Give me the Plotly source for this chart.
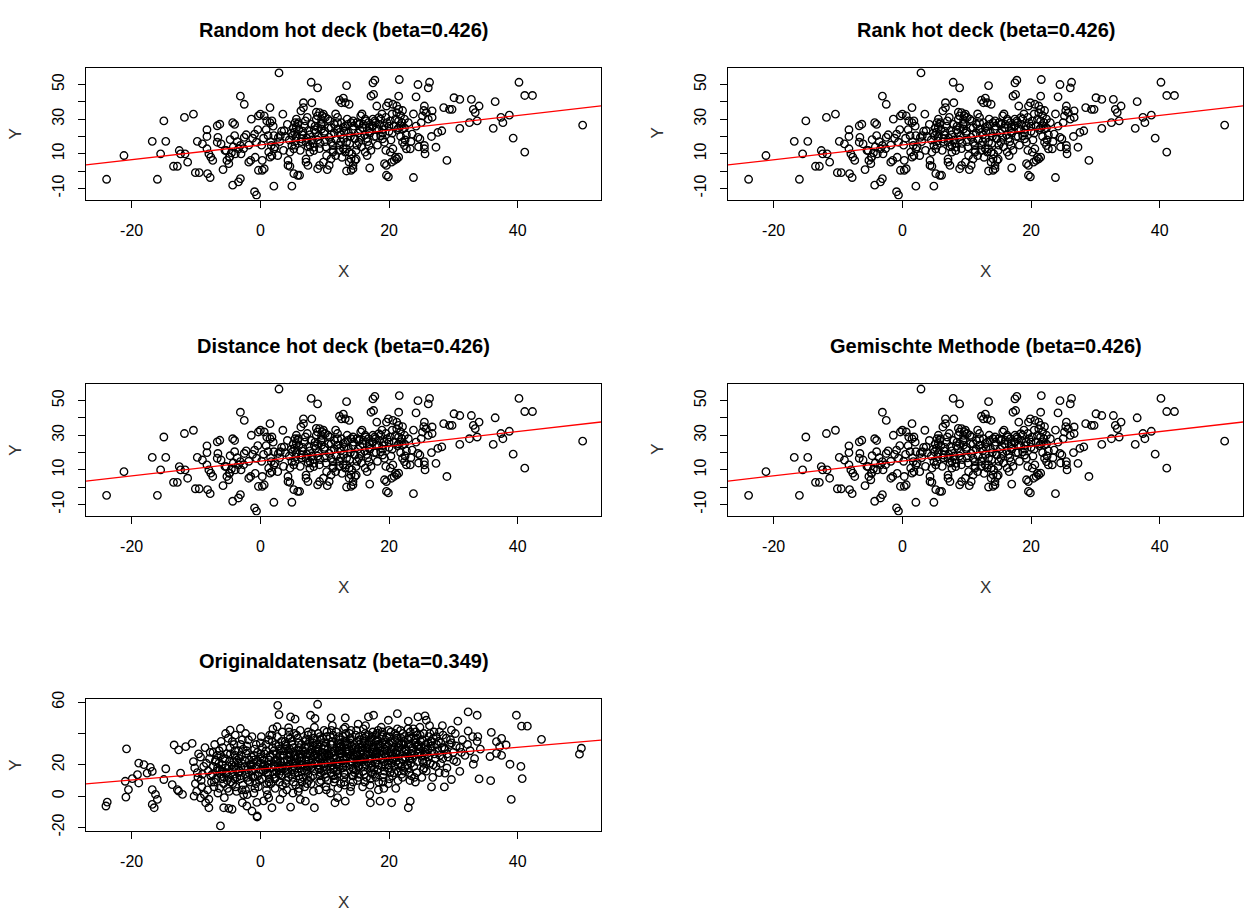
import plotly.graph_objects as go

# ---------------- data ----------------
titles = ["Random hot deck (beta=0.426)", "Rank hot deck (beta=0.426)",
          "Distance hot deck (beta=0.426)", "Gemischte Methode (beta=0.426)",
          "Originaldatensatz (beta=0.349)"]

imp_beta = 0.426
imp_intercept = 15.1
orig_beta = 0.349
orig_intercept = 17.3

x_ticks = [-20, 0, 20, 40]
imp_y_ticks = [-10, 0, 10, 20, 30, 40, 50]
imp_y_labels = ["-10", "", "10", "", "30", "", "50"]
orig_y_ticks = [-20, 0, 20, 40, 60]
orig_y_labels = ["-20", "0", "20", "", "60"]

# imputed data (same in the four hot-deck panels)
imp_left = [(-23.9,-4.7),(-21.2,9.0),(-16.0,-4.7),(-16.8,17.2),(-15.5,10.0),(-15.0,29.0),(-14.7,17.2),
 (-11.8,31.0),(-10.4,32.9),(-13.5,2.8),(-12.9,2.8),(-12.6,11.9),(-12.4,10.0),(-11.3,5.2),(-11.7,10.0),
 (-10.1,-0.9),(-9.5,-0.9),(-9.8,17.2),(-9.0,15.7),(-8.3,23.9),(-8.3,20.0),(-8.0,10.0),(-7.7,8.1),
 (-8.2,-1.4),(-7.8,-3.7),(-8.3,12.9),(-7.4,6.2),(-6.7,26.2),(-6.3,27.1),(-6.6,19.5),(-6.7,16.7),
 (-6.1,15.7),(-5.8,0.9),(-5.3,11.9),(-5.2,6.2),(-4.9,4.3),(-4.7,18.2),(-4.3,28.0),(-4.0,27.0),
 (-4.3,-8.1),(-3.4,-6.2),(-3.1,-4.3),(-3.1,43.3),(-2.5,38.6),(-4.0,20.5),(-4.5,10.5),(-3.9,10.0),
 (-3.4,12.9),(-4.8,8.1),(-3.1,14.8),(-2.5,19.5),(-1.8,5.2),(-1.5,6.2),(-1.4,30.0),(-0.9,-11.9),
 (-0.6,-13.8),(-0.9,21.4),(-0.6,16.7),(-0.3,31.9),(0.0,32.9),(-0.3,0.5),(0.3,0.5),(0.6,1.4),(0.3,6.2),
 (-5.5,12),(-4.8,8),(-4.2,14),(-3.6,17),(-3.0,10),(-2.6,13),(-2.2,21),(-1.8,15),(-1.2,19),(-0.8,8),(-0.4,24)]

imp_core = [(0.6,31.9),(1.0,29.0),(1.5,28.0),(1.8,29.0),(1.5,36.7),(1.2,20.5),(2.1,20.5),(1.7,14.8),
 (2.1,12.9),(1.5,8.1),(1.8,9.0),(2.1,-8.7),(2.9,56.7),(2.8,19.5),(3.1,20.5),(3.5,32.9),(3.7,23.3),
 (4.3,6.2),(4.6,2.8),(4.3,3.3),(4.6,11.0),(4.9,14.8),(5.2,12.9),(4.9,-8.7),(5.2,-1.4),(5.8,-2.4),
 (6.1,-2.4),(5.3,22.4),(5.4,28.0),(5.6,30.0),(5.8,27.1),(5.6,25.2),(6.3,34.8),(6.7,39.5),(6.7,36.7),
 (7.1,7.0),(7.1,5.2),(7.4,3.3),(7.9,51.3),(8.9,48.1),(8.0,39.5),(6.4,18.6),(7.1,16.7),(7.7,14.8),
 (8.3,13.8),(7.7,11.0),(8.3,11.9),(8.9,31.9),(9.2,33.8),(9.5,29.9),(9.8,32.9),(10.1,31.0),(8.6,22.4),
 (8.9,25.2),(9.5,24.3),(8.9,1.4),(9.2,3.3),(9.8,5.2),(10.4,0.9),(10.7,3.3),(10.7,19.5),(11.0,16.7),
 (11.3,14.8),(11.3,11.0),(11.7,9.0),(11.0,7.1),(12.0,24.3),(12.3,22.4),(12.6,28.0),(12.9,25.2),
 (12.3,41.0),(12.6,39.5),(12.9,42.2),(13.2,39.5),(13.8,38.6),(13.4,49.4),(13.4,0.1),(13.2,11.0),
 (12.9,12.9),(13.4,16.7),(13.8,11.0),(13.8,5.2),(14.1,7.1),(14.4,3.3),(14.7,6.2),(14.1,0.5),(14.4,1.4),
 (14.1,28.0),(14.4,29.0),(15.0,28.0),(15.3,27.1),(14.7,18.6),(15.3,16.7),(15.6,19.5),(15.6,31.9),
 (16.3,30.0),(16.3,11.0),(16.6,9.0),(16.9,14.8),(17.0,1.8),(17.2,43.3),(17.6,44.3),(17.5,51.0),
 (17.8,52.5),(16.9,25.2),(17.5,26.2),(17.8,29.0),(18.1,24.3),(18.4,30.9),(18.1,37.6),(18.7,20.5),
 (19.0,18.6),(19.3,16.7),(19.3,4.3),(19.6,3.3),(19.6,-2.4),(19.9,-3.3),(19.6,37.6),(19.9,39.5),
 (20.6,38.6),(20.2,11.0),(20.6,12.9),(20.4,5.2),(20.8,6.2),(21.2,7.1),(21.5,8.1),(21.5,43.3),
 (21.6,52.9),(21.2,37.6),(21.5,35.7),(21.2,33.8),(21.8,32.0),(21.8,26.2),(22.4,30.0),(22.1,24.3),
 (22.1,16.7),(22.4,14.8),(22.7,12.9),(23.3,12.9),(23.8,-3.7),(23.6,21.4),(24.2,42.9),(24.5,50.0),
 (24.5,19.5),(24.8,18.6),(25.2,31.9),(25.5,37.6),(25.8,33.8),(25.5,12.9),(25.6,10.0),(25.5,14.8),
 (0.2,15),(0.5,19),(0.9,24),(1.3,11),(1.6,17),(2.0,26),(2.3,14),(2.7,9),(3.0,17),(3.3,23),(3.6,12),
 (3.9,20),(4.2,27),(4.5,18),(4.8,22),(5.1,25),(5.4,15),(5.6,20),(5.9,28),(6.2,12),(6.4,17),(6.6,23),
 (6.9,26),(7.2,19),(7.4,14),(7.7,21),(7.9,27),(8.2,16),(8.4,24),(8.7,30),(8.9,18),(9.2,13),(9.4,27),
 (9.6,32),(9.9,22),(10.1,17),(10.3,9),(10.6,25),(10.8,29),(11.0,21),(11.3,12),(11.5,27),(11.8,18),
 (12.0,31),(12.2,15),(12.5,21),(12.7,8),(12.9,19),(13.2,26),(13.4,13),(13.7,22),(13.9,16),(14.2,10),
 (14.4,24),(14.6,19),(14.9,7),(15.2,22),(15.4,27),(15.7,14),(15.9,25),(16.2,21),(16.4,29),(16.7,17),
 (16.9,23),(17.2,12),(17.4,26),(17.7,20),(17.9,28),(18.2,15),(18.4,24),(18.7,30),(19.0,22),(19.2,26),
 (19.5,12),(19.7,28),(20.0,23),(20.3,18),(20.5,33),(20.8,26),(21.0,8),(21.3,24),(21.5,29),(21.8,20),
 (22.1,35),(22.4,25),(22.7,21),(23.0,28),(23.4,17),(23.8,33),(24.2,26),(24.6,14),(25.0,28),(25.4,35)]

imp_core_extra = [(5.0,20.5),(5.5,17.5),(6.0,24),(6.5,21),(7.0,29),(7.5,23.5),(8.0,18),(8.5,26),
 (9.0,20),(9.5,27.5),(10.0,23),(10.5,30),(11.0,25),(11.5,22),(12.0,28),(12.5,17),(13.0,23),(13.5,30),
 (14.0,20),(14.5,26),(15.0,15),(15.5,24),(16.0,27),(16.5,19),(17.0,22),(17.5,30),(18.0,20),(18.5,27),
 (19.0,24),(19.5,31),(20.0,26),(20.5,22),(21.0,30),(21.5,25),(22.0,28),(22.5,18),(9.3,16),(10.2,14),
 (11.7,33),(13.6,27),(15.8,33),(16.8,28),(18.9,33),(20.2,29),(12.2,12),(14.9,12),(7.3,31),(8.7,34)]

imp_right = [(26.1,48.1),(26.3,51.3),(26.1,30.0),(26.7,34.8),(26.7,31.0),(26.6,20.0),(27.3,13.8),
 (27.6,22.4),(28.2,23.3),(28.5,36.7),(29.4,35.7),(29.8,35.7),(29.0,6.2),(30.1,42.4),(31.0,41.4),
 (31.0,24.7),(32.5,28.0),(32.8,41.4),(33.1,35.7),(33.4,33.8),(33.7,29.0),(34.0,37.6),(36.2,24.7),
 (36.5,40.1),(37.4,31.0),(37.7,28.0),(38.7,32.3),(39.3,19.1),(40.2,51.3),(41.1,11.0),(41.1,43.7),
 (42.3,43.7),(50.1,26.6)]

# original data set
orig_outer = [(-24.0,-6.3),(-23.8,-3.8),(-20.8,30.2),(-20.9,-0.6),(-20.5,4.2),(-21.0,9.5),(-19.9,11.2),
 (-19.1,13.7),(-18.9,8.4),(-18.9,21.1),(-18.1,20.1),(-17.1,18.4),(-17.6,14.7),(-16.8,15.8),(-16.8,4.2),
 (-16.3,1.1),(-16.0,-2.1),(-16.5,-7.4),(-16.8,-5.3),(-14.7,17.5),(-15.0,10.6),(-13.4,32.7),(-12.7,29.6),
 (-11.6,31.6),(-10.6,33.7),(-13.7,7.4),(-12.9,4.2),(-12.1,1.1),(-12.7,3.2),(-12.4,14.7),(-10.3,0.0),
 (-9.3,-1.1),(-8.5,-4.2),(-8.0,-7.4),(-6.2,-19.0),(-5.7,-7.4),(-4.9,-7.8),(-4.4,-8.4),(-5.4,40.0),
 (-4.7,42.2),(-3.9,39.0),(-3.1,43.2),(-2.3,40.0),(-2.8,-4.2),(-2.1,-6.3),(-1.3,-9.5),(-0.5,-12.7),
 (2.7,58.0),(2.9,52.1),(8.9,58.7),(4.7,50.6),(5.4,49.2),(7.8,51.7),(8.5,49.6),(11.0,50.0),(13.2,50.0),
 (16.8,50.6),(17.6,51.7),(21.3,52.7),(19.9,48.5),(23.0,47.9),(24.5,50.6),(25.6,51.3),(2.6,44.3),
 (4.4,43.7),(1.8,-7.4),(4.7,-7.0),(8.4,-7.4),(-0.5,-13.3),(11.6,-4.2),(13.2,-3.2),(17.1,-4.2),
 (18.6,-3.2),(20.4,-4.2),(23.0,-7.4),(23.3,-3.2),(6.2,-2.1),(7.0,-3.2),(1.3,-1.1),
 (32.3,53.8),(33.7,51.7),(39.8,51.7),(40.6,44.7),(41.5,44.7),(30.7,47.9),(25.8,48.5),(32.3,41.6),
 (33.8,38.0),(29.7,42.2),(35.9,40.7),(37.5,36.9),(38.2,32.7),(36.7,34.8),(37.2,31.6),(43.7,36.3),
 (49.9,30.6),(49.6,26.8),(35.7,25.3),(36.7,27.4),(37.5,26.0),(33.1,20.4),(38.8,20.4),(40.5,19.0),
 (34.0,11.0),(35.8,9.9),(40.7,11.2),(39.0,-2.1),(26.6,5.9),(28.6,5.9),(29.7,10.6),(31.0,15.8),(28.7,14.7)]

orig_core_left = [(-10.4,22),(-10.1,8),(-9.8,15),(-9.6,27),(-9.9,3),(-10.2,18),(-9.7,12),
 (-9.3,25),(-9.1,6),(-8.8,19),(-8.6,31),(-9.0,14),(-8.7,1),(-9.2,10),
 (-8.4,21),(-8.1,16),(-7.8,28),(-7.6,9),(-8.2,4),(-7.9,24),(-7.7,13),(-8.0,-2),
 (-7.3,19),(-7.1,33),(-6.9,11),(-6.7,26),(-7.2,6),(-6.8,16),(-7.0,22),(-6.6,2),
 (-6.4,29),(-6.2,14),(-5.9,20),(-5.7,8),(-6.1,35),(-5.8,24),(-6.3,17),(-5.6,-1),(-6.0,11),
 (-5.4,18),(-5.2,27),(-4.9,12),(-4.7,31),(-5.1,5),(-4.8,22),(-5.3,15),(-4.6,9),(-5.0,37),
 (-4.4,20),(-4.2,14),(-3.9,26),(-3.7,3),(-4.1,33),(-3.8,17),(-4.3,8),(-3.6,23),(-4.0,11),
 (-3.4,29),(-3.2,16),(-2.9,21),(-2.7,7),(-3.1,13),(-2.8,36),(-3.3,24),(-2.6,1),(-3.0,18),
 (-2.4,19),(-2.2,27),(-1.9,10),(-1.7,23),(-2.1,32),(-1.8,15),(-2.3,4),(-1.6,20),(-2.0,12),
 (-1.4,25),(-1.2,17),(-0.9,30),(-0.7,8),(-1.1,21),(-0.8,13),(-1.3,38),(-0.6,19),(-1.0,2),
 (-0.4,22),(-0.2,15),(0.1,27),(0.3,11),(0.0,34),(0.4,19),(-0.3,6),(0.2,24),(0.5,-3),(0.1,17),
 (0.7,20),(0.9,29),(1.2,14),(1.4,23),(1.0,8),(1.3,36),(0.8,17),(1.5,26),(1.1,1),(1.4,11),
 (1.7,18),(1.9,31),(2.2,22),(2.4,12),(2.0,27),(2.3,5),(1.8,39),(2.5,16),(2.1,20),(2.4,33),
 (2.7,24),(2.9,14),(3.2,29),(3.4,19),(3.0,9),(3.3,35),(2.8,21),(3.5,2),(3.1,26),(3.4,41),(2.9,17),
 (3.7,22),(3.9,30),(4.2,15),(4.4,25),(4.0,10),(4.3,38),(3.8,18),(4.5,28),(4.1,4),(4.4,20),(3.9,33),
 (4.7,26),(4.9,17),(5.2,31),(5.4,21),(5.0,12),(5.3,40),(4.8,23),(5.5,7),(5.1,28),(5.4,15),(4.9,35),(5.2,19),
 (5.7,24),(5.9,29),(6.2,18),(6.4,33),(6.0,13),(6.3,22),(5.8,37),(6.5,9),(6.1,27),(6.4,16),(5.9,3),(6.2,42),
 (6.7,20),(6.9,31),(7.2,25),(7.4,14),(7.0,35),(7.3,19),(6.8,28),(7.5,10),(7.1,23),(7.4,39),(6.9,6),(7.2,17),
 (7.7,27),(7.9,21),(8.2,32),(8.4,16),(8.0,24),(8.3,37),(7.8,12),(8.5,29),(8.1,19),(8.4,44),(7.9,8),(8.2,34),
 (8.7,22),(8.9,30),(9.2,17),(9.4,26),(9.0,40),(9.3,13),(8.8,33),(9.5,21),(9.1,4),(9.4,36),(8.9,25),(9.2,9)]

orig_core_right = [(9.7,28),(9.9,19),(10.2,34),(10.4,23),(10.0,14),(10.3,38),(9.8,25),(10.5,10),(10.1,31),(10.4,17),(9.9,42),(10.2,6),(10.0,21),
 (10.7,26),(10.9,33),(11.2,20),(11.4,29),(11.0,15),(11.3,39),(10.8,23),(11.5,11),(11.1,35),(11.4,18),(10.9,2),(11.2,45),(11.0,27),
 (11.7,24),(11.9,31),(12.2,19),(12.4,36),(12.0,14),(12.3,27),(11.8,41),(12.5,8),(12.1,22),(12.4,33),(11.9,16),(12.2,29),(12.0,-1),
 (12.7,30),(12.9,21),(13.2,35),(13.4,25),(13.0,12),(13.3,40),(12.8,18),(13.5,28),(13.1,7),(13.4,33),(12.9,23),(13.2,44),(13.0,15),
 (13.7,27),(13.9,20),(14.2,32),(14.4,24),(14.0,37),(14.3,13),(13.8,29),(14.5,17),(14.1,42),(14.4,9),(13.9,34),(14.2,22),(14.0,3),
 (14.7,25),(14.9,31),(15.2,19),(15.4,36),(15.0,28),(15.3,14),(14.8,39),(15.5,22),(15.1,10),(15.4,33),(14.9,17),(15.2,46),(15.0,26),
 (15.7,29),(15.9,22),(16.2,34),(16.4,26),(16.0,16),(16.3,40),(15.8,31),(16.5,12),(16.1,37),(16.4,20),(15.9,6),(16.2,24),(16.0,43),
 (16.7,27),(16.9,33),(17.2,21),(17.4,38),(17.0,30),(17.3,15),(16.8,24),(17.5,41),(17.1,11),(17.4,28),(16.9,35),(17.2,18),(17.0,1),
 (17.7,31),(17.9,25),(18.2,36),(18.4,20),(18.0,28),(18.3,42),(17.8,14),(18.5,33),(18.1,23),(18.4,9),(17.9,39),(18.2,17),
 (18.7,26),(18.9,34),(19.2,22),(19.4,30),(19.0,39),(19.3,16),(18.8,44),(19.5,25),(19.1,12),(19.4,36),(18.9,19),(19.2,5),
 (19.7,29),(19.9,23),(20.2,35),(20.4,27),(20.0,18),(20.3,41),(19.8,32),(20.5,13),(20.1,38),(20.4,21),(19.9,8),
 (20.7,31),(20.9,25),(21.2,37),(21.4,20),(21.0,28),(21.3,43),(20.8,15),(21.5,34),(21.1,22),(21.4,10),(20.9,40),
 (21.7,27),(21.9,33),(22.2,23),(22.4,38),(22.0,30),(22.3,16),(21.8,42),(22.5,25),(22.1,12),(22.4,35),(21.9,19),
 (22.7,29),(22.9,36),(23.2,24),(23.4,32),(23.0,18),(23.3,41),(22.8,27),(23.5,13),(23.1,38),(23.4,21),
 (23.7,31),(23.9,26),(24.2,37),(24.4,22),(24.0,34),(24.3,15),(23.8,43),(24.5,28),(24.1,9),(24.4,39),
 (24.7,28),(24.9,35),(25.2,23),(25.4,40),(25.0,31),(25.3,17),(24.8,44),(25.5,26),(25.1,12),
 (25.7,33),(25.9,27),(26.2,38),(26.4,21),(26.0,30),(26.3,45),(25.8,16),(26.5,35),
 (26.7,29),(26.9,37),(27.2,24),(27.4,33),(27.0,41),(27.3,19),(26.8,12),
 (27.7,35),(27.9,26),(28.2,31),(28.4,39),(28.0,21),(28.3,45),(27.8,15),
 (28.7,30),(28.9,37),(29.2,25),(29.4,33),(29.0,18),
 (29.7,34),(30.0,28),(30.3,40),(30.5,22),
 (31.0,31),(31.4,36),(31.8,26),(32.2,33),(32.6,29),(33.0,38),(33.3,24),(33.7,35),(34.2,30)]

orig_core_extra = [(-7.45,14),(-6.95,23),(-7.15,9),(-6.65,18),(-7.35,28),
 (-6.45,21),(-5.95,16),(-6.15,26),(-5.65,12),(-6.35,5),(-5.85,31),
 (-5.45,24),(-4.95,19),(-5.15,10),(-4.65,27),(-5.35,14),(-4.85,3),
 (-4.45,17),(-3.95,29),(-4.15,22),(-3.65,12),(-4.35,35),(-3.85,6),(-4.05,19),
 (-3.45,21),(-2.95,26),(-3.15,11),(-2.65,30),(-3.35,15),(-2.85,4),(-3.05,33),
 (-2.45,23),(-1.95,17),(-2.15,29),(-1.65,9),(-2.35,14),(-1.85,36),(-2.05,1),
 (-1.45,20),(-0.95,26),(-1.15,12),(-0.65,33),(-1.35,16),(-0.85,5),(-1.05,23),(-0.55,-4),
 (-0.45,28),(0.05,21),(-0.15,10),(0.35,31),(-0.35,13),(0.15,38),(0.45,16),(-0.05,25),
 (0.55,23),(1.05,18),(0.85,33),(1.35,9),(0.65,27),(1.15,15),(1.45,39),(0.95,4),(1.25,20),
 (1.55,25),(2.05,14),(1.85,35),(2.35,19),(1.65,8),(2.15,29),(2.45,23),(1.95,43),(2.25,11),
 (2.55,27),(3.05,18),(2.85,32),(3.35,13),(2.65,38),(3.15,22),(3.45,7),(2.95,30),(3.25,16),(3.05,-2),
 (3.55,26),(4.05,19),(3.85,35),(4.35,12),(3.65,29),(4.15,23),(4.45,41),(3.95,8),(4.25,17),(4.05,32),
 (4.55,30),(5.05,21),(4.85,14),(5.35,26),(4.65,37),(5.15,9),(5.45,18),(4.95,33),(5.25,24),(5.05,2),
 (5.55,22),(6.05,31),(5.85,15),(6.35,27),(5.65,39),(6.15,11),(6.45,20),(5.95,34),(6.25,25),(6.05,5),
 (6.55,29),(7.05,22),(6.85,16),(7.35,33),(6.65,12),(7.15,27),(7.45,41),(6.95,19),(7.25,8),(7.05,36),
 (7.55,23),(8.05,30),(7.85,18),(8.35,26),(7.65,35),(8.15,13),(8.45,21),(7.95,40),(8.25,3),(8.05,28),
 (8.55,27),(9.05,20),(8.85,36),(9.35,15),(8.65,31),(9.15,24),(9.45,10),(8.95,29),(9.25,38),(9.05,18),
 (9.55,24),(10.05,32),(9.85,16),(10.35,27),(9.65,37),(10.15,12),(10.45,21),(9.95,30),(10.25,4),(10.05,26),(10.35,41),
 (10.55,30),(11.05,22),(10.85,38),(11.35,17),(10.65,26),(11.15,33),(11.45,9),(10.95,19),(11.25,28),(11.05,42),(11.35,13),
 (11.55,26),(12.05,34),(11.85,20),(12.35,29),(11.65,11),(12.15,38),(12.45,23),(11.95,17),(12.25,31),(12.05,5),(12.35,25),
 (12.55,32),(13.05,24),(12.85,38),(13.35,19),(12.65,27),(13.15,14),(13.45,30),(12.95,43),(13.25,21),(13.05,9),(13.35,35),
 (13.55,29),(14.05,22),(13.85,40),(14.35,18),(13.65,33),(14.15,26),(14.45,13),(13.95,36),(14.25,30),(14.05,6),(14.35,24),
 (14.55,33),(15.05,21),(14.85,27),(15.35,38),(14.65,15),(15.15,30),(15.45,24),(14.95,42),(15.25,12),(15.05,35),(15.35,19),
 (15.55,27),(16.05,35),(15.85,19),(16.35,31),(15.65,23),(16.15,14),(16.45,38),(15.95,29),(16.25,9),(16.05,25),(16.35,45),
 (16.55,31),(17.05,24),(16.85,39),(17.35,19),(16.65,33),(17.15,27),(17.45,14),(16.95,21),(17.25,36),(17.05,7),(17.35,30),
 (17.55,28),(18.05,35),(17.85,21),(18.35,31),(17.65,17),(18.15,40),(18.45,25),(17.95,12),(18.25,33),(18.05,27),(18.35,4),
 (18.55,32),(19.05,24),(18.85,38),(19.35,20),(18.65,29),(19.15,14),(19.45,33),(18.95,41),(19.25,27),(19.05,9),
 (19.55,26),(20.05,33),(19.85,20),(20.35,30),(19.65,38),(20.15,15),(20.45,24),(19.95,42),(20.25,28),(20.05,11),
 (20.55,34),(21.05,27),(20.85,19),(21.35,31),(20.65,24),(21.15,39),(21.45,16),(20.95,36),(21.25,29),(21.05,5),
 (21.55,31),(22.05,24),(21.85,37),(22.35,28),(21.65,21),(22.15,40),(22.45,19),(21.95,14),(22.25,33),
 (22.55,25),(23.05,33),(22.85,20),(23.35,37),(22.65,30),(23.15,15),(23.45,27),(22.95,43),(23.25,10),
 (23.55,29),(24.05,36),(23.85,19),(24.35,32),(23.65,24),(24.15,41),(24.45,27),(23.95,12),
 (24.55,33),(25.05,26),(24.85,39),(25.35,21),(24.65,30),(25.15,36),(25.45,18),
 (25.55,28),(26.05,34),(25.85,22),(26.35,40),(25.65,31),(26.15,25),
 (26.55,32),(27.05,27),(26.85,20),(27.35,38),(26.65,35),
 (27.55,29),(28.05,34),(28.35,24),(27.85,41),
 (28.55,31),(29.05,27),(29.55,36),(30.05,23),(30.45,32),(31.25,28)]

# ---------------- layout helpers ----------------
W, H = 1249, 916
X_RANGE = [-27.1, 52.95]
IMP_Y_RANGE = [-16.4, 59.8]
ORIG_Y_RANGE = [-22.1, 62.2]

def fx(p):
    return p / W

def fy(p):
    return 1 - p / H

# panel boxes in pixels: left, right, top, bottom
boxes = [(86, 601, 60.5, 194.5), (728, 1243, 60.5, 194.5),
         (86, 601, 381.5, 515.5), (728, 1243, 381.5, 515.5),
         (86, 601, 701.5, 835.5)]

imp_pts = imp_left + imp_core + imp_core_extra + imp_right
orig_pts = orig_outer + orig_core_left + orig_core_right + orig_core_extra

fig = go.Figure()
FONT = "Liberation Sans, Arial, sans-serif"
annotations = []

for i, (l, r, t, b) in enumerate(boxes):
    n = i + 1
    sfx = "" if n == 1 else str(n)
    is_orig = (n == 5)
    pts = orig_pts if is_orig else imp_pts
    xs = [p[0] for p in pts]
    ys = [p[1] for p in pts]
    fig.add_trace(go.Scatter(
        x=xs, y=ys, mode="markers", xaxis="x" + sfx, yaxis="y" + sfx,
        marker=dict(symbol="circle-open", size=7.5, color="black", line=dict(width=1.35, color="black")),
        showlegend=False, hoverinfo="skip"))
    a = orig_intercept if is_orig else imp_intercept
    bb = orig_beta if is_orig else imp_beta
    fig.add_trace(go.Scatter(
        x=X_RANGE, y=[a + bb * X_RANGE[0], a + bb * X_RANGE[1]], mode="lines",
        xaxis="x" + sfx, yaxis="y" + sfx, line=dict(color="red", width=1.3),
        showlegend=False, hoverinfo="skip"))
    axis_common = dict(showline=True, linecolor="black", linewidth=1, mirror=True,
                       showgrid=False, zeroline=False, ticks="outside", ticklen=7,
                       tickcolor="black", tickwidth=1,
                       tickfont=dict(family=FONT, size=16, color="black"))
    fig.update_layout(**{
        "xaxis" + sfx: dict(domain=[fx(l), fx(r)], anchor="y" + sfx, range=X_RANGE,
                            tickvals=x_ticks, ticktext=[str(v) for v in x_ticks],
                            ticklabelstandoff=9, **axis_common),
        "yaxis" + sfx: dict(domain=[fy(b), fy(t)], anchor="x" + sfx,
                            range=ORIG_Y_RANGE if is_orig else IMP_Y_RANGE,
                            tickvals=orig_y_ticks if is_orig else imp_y_ticks,
                            ticktext=orig_y_labels if is_orig else imp_y_labels,
                            tickangle=-90, ticklabelstandoff=8, **axis_common),
    })
    cx = (l + r) / 2
    annotations.append(dict(text="<b>" + titles[i] + "</b>", x=fx(cx), y=fy(t - 38.5),
                            xref="paper", yref="paper", showarrow=False,
                            font=dict(family=FONT, size=20, color="black"),
                            xanchor="center", yanchor="middle"))
    annotations.append(dict(text="X", x=fx(cx), y=fy(b + 73), xref="paper", yref="paper",
                            showarrow=False, font=dict(family=FONT, size=17, color="#333"),
                            xanchor="center", yanchor="middle"))
    annotations.append(dict(text="Y", x=fx(l - 70), y=fy((t + b) / 2), xref="paper", yref="paper",
                            showarrow=False, textangle=-90,
                            font=dict(family=FONT, size=17, color="#333"),
                            xanchor="center", yanchor="middle"))

fig.update_layout(width=W, height=H, margin=dict(l=0, r=0, t=0, b=0),
                  paper_bgcolor="white", plot_bgcolor="white",
                  annotations=annotations, showlegend=False)

fig.write_html("out.html", config={"displayModeBar": False},
               post_script="document.body.style.margin='0';document.body.style.overflow='hidden';")
